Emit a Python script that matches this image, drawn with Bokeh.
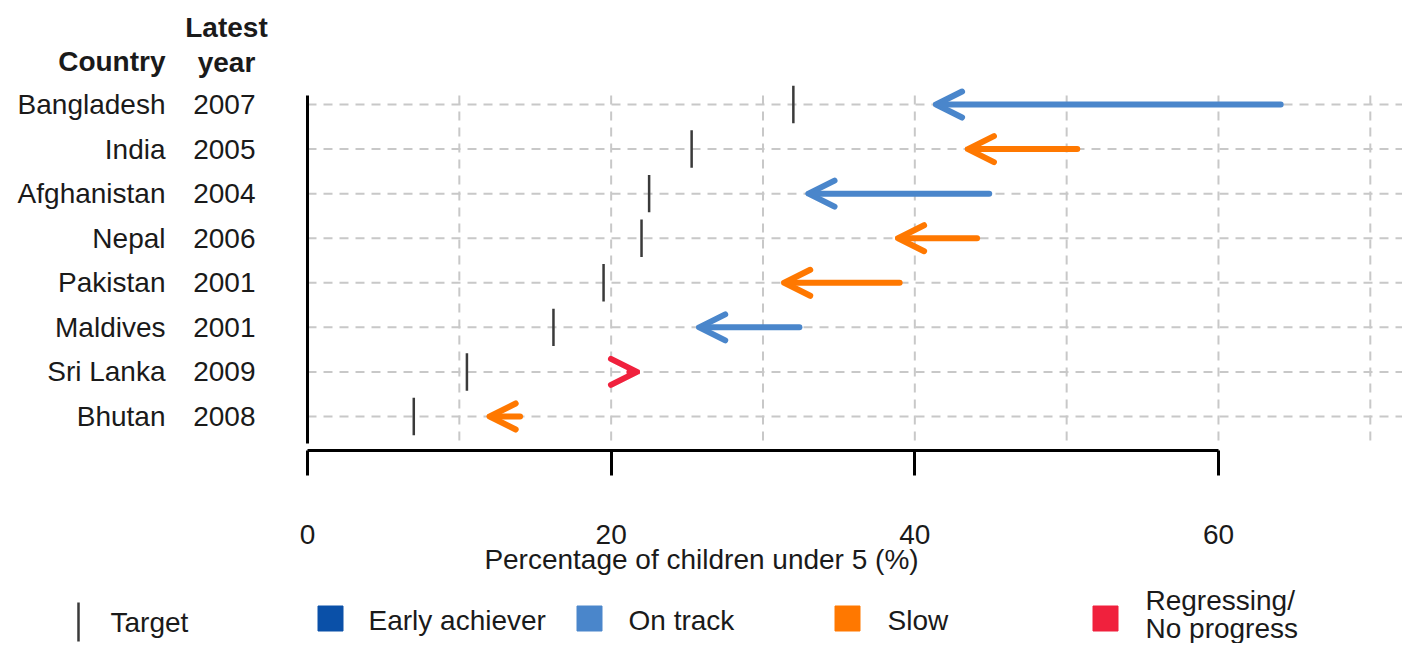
from bokeh.plotting import figure
from bokeh.models import ColumnDataSource, Arrow, OpenHead, FixedTicker, Range1d
from bokeh.layouts import column
from bokeh.core.properties import value
from bokeh.embed import file_html
from bokeh.resources import INLINE

# ---------------- data ----------------
countries = ["Bangladesh", "India", "Afghanistan", "Nepal", "Pakistan", "Maldives", "Sri Lanka", "Bhutan"]
years = ["2007", "2005", "2004", "2006", "2001", "2001", "2009", "2008"]
baseline = [64.1, 50.7, 44.9, 44.1, 39.0, 32.4, 21.2, 14.0]
latest = [41.4, 43.5, 33.0, 38.9, 31.4, 25.8, 21.7, 12.0]
target = [32.0, 25.3, 22.5, 22.0, 19.5, 16.2, 10.5, 7.0]
status = ["On track", "Slow", "On track", "Slow", "Slow", "On track", "Regressing", "Slow"]
x_ticks = [0, 20, 40, 60]
grid_x = [10, 20, 30, 40, 50, 60, 70]

legend_labels = ["Early achiever", "On track", "Slow", "Regressing/\nNo progress"]
colors = {"Early achiever": "#0a50a8", "On track": "#4a86cb", "Slow": "#ff7800", "Regressing": "#f0213d"}

FONT = value("Liberation Sans")
FS = "28px"
TXT = "#1a1a1a"

# ---------------- geometry (pixel mapping) ----------------
W = 1402
H1 = 585
H2 = 58
PX0 = 307.0          # px of value 0
SX = 15.183          # px per unit
def dx(px):
    return (px - PX0) / SX

ROW0 = 416.0         # px of bottom row
SY = 44.57
def dy(py):
    return (ROW0 - py) / SY

FRAME_BOTTOM = 450
n = len(countries)
ys = [n - 1 - i for i in range(n)]

p = figure(width=W, height=H1, output_backend="svg", toolbar_location=None,
           x_range=Range1d(dx(0), dx(W)), y_range=Range1d(dy(FRAME_BOTTOM), dy(0)),
           y_axis_location=None, min_border_left=0, min_border_right=0,
           min_border_top=0, min_border_bottom=H1 - FRAME_BOTTOM)
p.outline_line_color = None
p.xgrid.visible = False
p.ygrid.visible = False
p.background_fill_color = "white"

# grid lines
GRID = "#c8c8c8"
p.segment(x0=grid_x, x1=grid_x, y0=[dy(440)] * len(grid_x), y1=[dy(92)] * len(grid_x),
          line_color=GRID, line_width=2, line_dash="9 7")
p.segment(x0=[0] * n, x1=[dx(1420)] * n, y0=ys, y1=ys,
          line_color=GRID, line_width=2, line_dash="9 7")

# y axis line
p.segment(x0=[0], x1=[0], y0=[dy(443)], y1=[dy(95)], line_color="black", line_width=3)

# targets
p.segment(x0=target, x1=target, y0=[y - 0.42 for y in ys], y1=[y + 0.42 for y in ys],
          line_color="#3a3a3a", line_width=2.5)

# arrows
for st, col in colors.items():
    idx = [i for i in range(n) if status[i] == st]
    if not idx:
        continue
    src = ColumnDataSource(dict(x0=[baseline[i] for i in idx], x1=[latest[i] for i in idx],
                                y=[ys[i] for i in idx]))
    head = OpenHead(size=26, line_width=6, line_color=col, line_cap="round", line_join="round")
    p.add_layout(Arrow(end=head, x_start="x0", y_start="y", x_end="x1", y_end="y", source=src,
                       line_color=col, line_width=6, line_cap="round"))

# row labels
p.text(x=[dx(165)] * n, y=ys, text=countries, text_font=FONT, text_font_size=FS,
       text_align="right", text_baseline="middle", text_color=TXT)
p.text(x=[dx(255)] * n, y=ys, text=years, text_font=FONT, text_font_size=FS,
       text_align="right", text_baseline="middle", text_color=TXT)
# headers
p.text(x=[dx(165)], y=[dy(61)], text=["Country"], text_font=FONT, text_font_size=FS,
       text_font_style="bold", text_align="right", text_baseline="middle", text_color=TXT)
p.text(x=[dx(226)] * 2, y=[dy(27), dy(62)], text=["Latest", "year"], text_font=FONT,
       text_font_size=FS, text_font_style="bold", text_align="center", text_baseline="middle",
       text_color=TXT)

# x axis
ax = p.xaxis[0]
ax.ticker = FixedTicker(ticks=x_ticks)
ax.bounds = (0, 60)
ax.major_tick_out = 25
ax.major_tick_in = 0
ax.minor_tick_out = 0
ax.minor_tick_in = 0
ax.axis_line_width = 3
ax.axis_line_color = "black"
ax.major_tick_line_width = 3
ax.major_tick_line_color = "black"
ax.major_label_standoff = 49
ax.major_label_text_font = "Liberation Sans"
ax.major_label_text_font_size = FS
ax.major_label_text_color = TXT
ax.axis_label = "Percentage of children under 5 (%)"
ax.axis_label_text_font = "Liberation Sans"
ax.axis_label_text_font_size = FS
ax.axis_label_text_font_style = "normal"
ax.axis_label_text_color = TXT
ax.axis_label_standoff = -3

# ---------------- legend figure ----------------
TOP2 = H1
def ly(py):
    return (TOP2 + H2) - py

lg = figure(width=W, height=H2, output_backend="svg", toolbar_location=None,
            x_range=Range1d(dx(0), dx(W)), y_range=Range1d(0, H2),
            x_axis_location=None, y_axis_location=None,
            min_border_left=0, min_border_right=0, min_border_top=0, min_border_bottom=0)
lg.outline_line_color = None
lg.xgrid.visible = False
lg.ygrid.visible = False

lg.segment(x0=[dx(78)], x1=[dx(78)], y0=[ly(602)], y1=[ly(641)], line_color="#3a3a3a", line_width=2.5)
lg.text(x=[dx(110)], y=[ly(622)], text=["Target"], text_font=FONT, text_font_size=FS,
        text_align="left", text_baseline="middle", text_color=TXT)

sq_x = [dx(330), dx(589), dx(847), dx(1105)]
sq_c = [colors["Early achiever"], colors["On track"], colors["Slow"], colors["Regressing"]]
lg.scatter(x=sq_x, y=[ly(618)] * 4, marker="square", size=25, fill_color=sq_c, line_color=sq_c)
lab_x = [dx(368), dx(628), dx(887)]
lg.text(x=lab_x, y=[ly(620)] * 3, text=legend_labels[:3], text_font=FONT, text_font_size=FS,
        text_align="left", text_baseline="middle", text_color=TXT)
reg_lines = legend_labels[3].split("\n")
lg.text(x=[dx(1145)] * 2, y=[ly(600), ly(628)], text=reg_lines, text_font=FONT, text_font_size=FS,
        text_align="left", text_baseline="middle", text_color=TXT)

layout = column(p, lg, spacing=0)
open("out.html", "w").write(file_html(layout, INLINE))
